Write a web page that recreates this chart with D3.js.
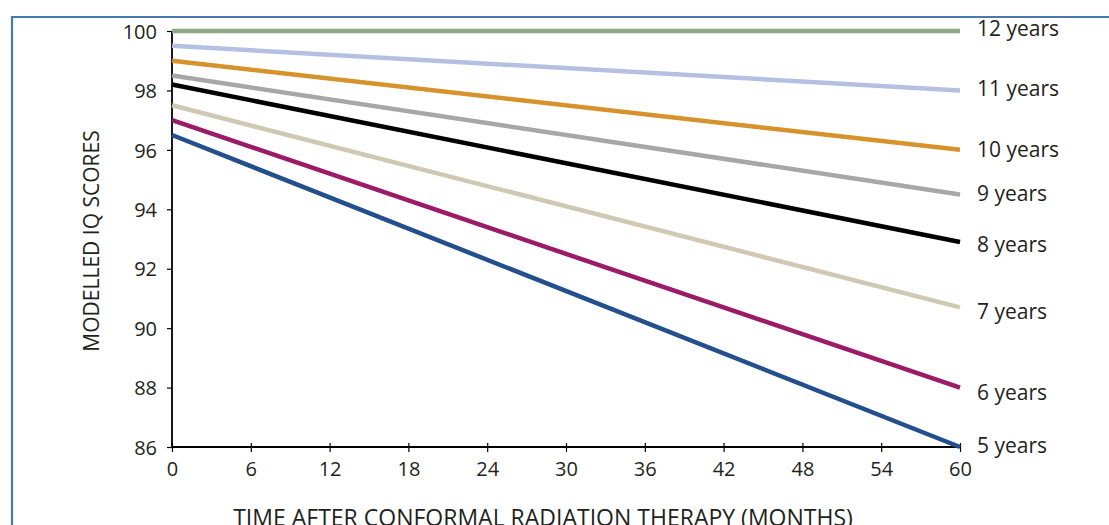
<!DOCTYPE html>
<html><head><meta charset="utf-8">
<script src="https://cdn.jsdelivr.net/npm/d3@7"></script>
<style>
html,body{margin:0;padding:0;background:#fff;overflow:hidden;}
svg{display:block;}
text{font-family:"Open Sans","Noto Sans",sans-serif;fill:#231f20;}
</style></head>
<body>
<svg id="chart" width="1109" height="525"></svg>
<script>
const months = [0, 60];
const seriesNames = ["12 years","11 years","10 years","9 years","8 years","7 years","6 years","5 years"];
const startValues = [100, 99.5, 99, 98.5, 98.2, 97.5, 97, 96.5];
const endValues = [100, 98, 96, 94.5, 92.9, 90.7, 88, 86];
const seriesColors = ["#8ea986","#b3c0e2","#d6922b","#a7a7a7","#000000","#cfc9b4","#9c1b68","#234f8d"];
const xTicks = [0,6,12,18,24,30,36,42,48,54,60];
const yTicks = [86,88,90,92,94,96,98,100];

// layout-only label nudges (px)
const labelNudge = [-2,-1,0,0,3,5,5,-1];

const svg = d3.select("#chart");
const x = d3.scaleLinear().domain([0,60]).range([172,960]);
const y = d3.scaleLinear().domain([86,100]).range([447,31]);

// frame
svg.append("path").attr("d","M12,1200 L12,17 L1115,17")
  .attr("fill","none").attr("stroke","#4a77aa").attr("stroke-width",2.2);

// axes
const yAxis = svg.append("g").attr("transform",`translate(${x(0)},0)`)
  .call(d3.axisLeft(y).tickValues(yTicks).tickSize(5).tickPadding(10).tickFormat(d3.format("d")));
const xAxis = svg.append("g").attr("transform",`translate(0,${y(86)})`)
  .call(d3.axisBottom(x).tickValues(xTicks).tickSize(5).tickPadding(10).tickFormat(d3.format("d")));
[yAxis,xAxis].forEach(g=>{
  g.select(".domain").attr("stroke","#000").attr("stroke-width",1.8);
  g.selectAll(".tick line").attr("stroke","#000").attr("stroke-width",1.2);
  g.selectAll("text").style("font-size","20px").attr("fill","#231f20");
});
xAxis.selectAll(".tick line").attr("y1",-4).attr("y2",5);
yAxis.select(".domain").attr("d",`M0,${y(100)}V${y(86)}`);
xAxis.select(".domain").attr("d",`M${x(0)},0H${x(60)}`);
yAxis.selectAll("text").attr("dy","0.36em");

// lines
const line = d3.line().x(d=>x(d[0])).y(d=>y(d[1]));
const data = seriesNames.map((n,i)=>({name:n,i,color:seriesColors[i],pts:[[months[0],startValues[i]],[months[1],endValues[i]]]}));
svg.append("g").selectAll("path").data(data.slice().reverse()).join("path")
  .attr("d",d=>line(d.pts)).attr("fill","none").attr("stroke",d=>d.color)
  .attr("stroke-width",4.5).attr("stroke-linecap","butt");

// labels
svg.append("g").selectAll("text").data(data).join("text")
  .attr("x",x(60)+17).attr("y",d=>y(d.pts[1][1])+labelNudge[d.i]).attr("dy","0.33em")
  .style("font-size","21px").text(d=>d.name);

// axis titles
svg.append("text").attr("x",543).attr("y",526).attr("text-anchor","middle")
  .style("font-size","23px").text("TIME AFTER CONFORMAL RADIATION THERAPY (MONTHS)");
svg.append("text").attr("transform",`translate(99,${241}) rotate(-90)`).attr("text-anchor","middle")
  .style("font-size","21px").text("MODELLED IQ SCORES");
</script>
</body></html>
